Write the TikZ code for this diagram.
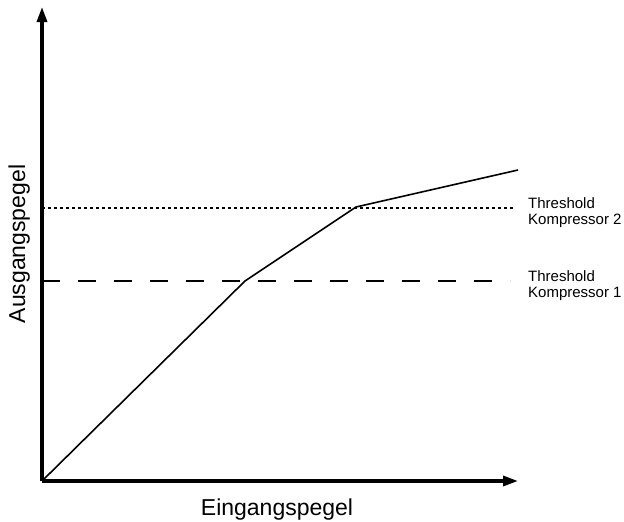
\documentclass[tikz,border=0pt]{standalone}
\usepackage{fontspec}
\setmainfont{Liberation Sans}
\usetikzlibrary{arrows.meta}

\begin{document}
\begin{tikzpicture}[x=1pt,y=-1pt,
  achse/.style={line width=3.2pt, -{Triangle[length=15pt,width=10pt]}},
  kennlinie/.style={line width=1.6pt},
  schwelle/.style={line width=1.3pt},
  schwelltext/.style={anchor=north west, align=left, inner sep=0pt,
    font=\fontsize{15}{16}\selectfont}]
  \useasboundingbox (0,0) rectangle (624,522);
  % Achsen
  \coordinate (O) at (42,481);
  \coordinate (ytop) at (42,7);
  \coordinate (xend) at (518,481);
  \draw[achse] (O) -- (ytop);
  \draw[achse] (O) -- (xend);
  \node[rotate=90, anchor=base, inner sep=0pt, font=\fontsize{23}{25}\selectfont] (ylab) at (25,244) {Ausgangspegel};
  \node[anchor=base, inner sep=0pt, font=\fontsize{23}{25}\selectfont] (xlab) at (277,515) {Eingangspegel};
  % Schwellen
  \coordinate (s1a) at (42,281);  \coordinate (s1b) at (510,281);
  \coordinate (s2a) at (42,208);  \coordinate (s2b) at (514,208);
  \draw[schwelle, dash pattern=on 18pt off 18pt] (s1a) -- (s1b);
  \draw[schwelle, dash pattern=on 3pt off 3pt] (s2a) -- (s2b);
  \node[schwelltext] (t1) at (528,270) {Threshold\\Kompressor 1};
  \node[schwelltext] (t2) at (528,197) {Threshold\\Kompressor 2};
  % Kennlinie
  \coordinate (k1) at (245,281);
  \coordinate (k2) at (356,207);
  \coordinate (e) at (518,170);
  \draw[kennlinie] (O) -- (k1) -- (k2) -- (e);
\end{tikzpicture}
\end{document}
